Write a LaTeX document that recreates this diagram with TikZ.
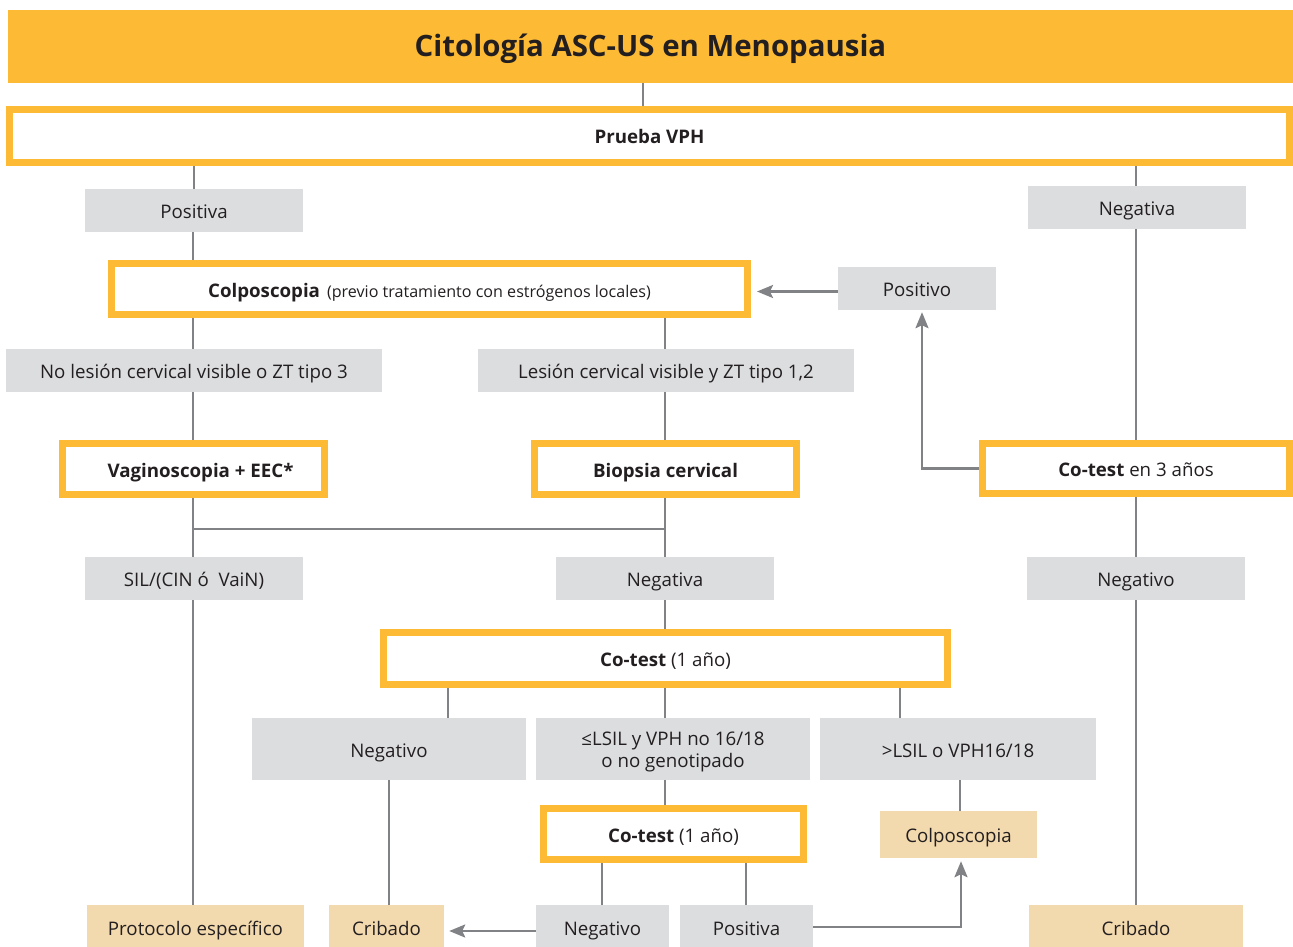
\documentclass[tikz,border=0pt]{standalone}
\usepackage{fontspec}
\setmainfont{Open Sans}
\usetikzlibrary{arrows.meta,calc}
\definecolor{ambar}{HTML}{FDBB35}
\definecolor{gris}{HTML}{DCDDDF}
\definecolor{crema}{HTML}{F3D9AE}
\definecolor{linea}{HTML}{808285}
\definecolor{tinta}{HTML}{231F20}
\newcommand{\txt}{\fontsize{18.7}{22}\selectfont}
\begin{document}
\begin{tikzpicture}[x=1pt,y=-1pt,
  every node/.style={text=tinta, inner sep=0pt, font=\txt},
  linea1/.style={text height=16.5pt, text depth=0.5pt},
  obox/.style={draw=ambar, line width=7pt, fill=white, rectangle, linea1},
  gbox/.style={fill=gris, rectangle, linea1},
  tbox/.style={fill=crema, rectangle, linea1},
  conn/.style={draw=linea, line width=2.5pt},
  arr/.style={conn, -{Stealth[length=16pt,width=13pt,inset=3pt]}}]
\useasboundingbox (0,0) rectangle (1293,947);

% title bar
\node[fill=ambar, minimum width=1285pt, minimum height=73pt, text height=21pt, text depth=0.5pt,
      font=\fontsize{29.4}{34}\selectfont\bfseries] (title) at (650.5,46.5) {Citología ASC-US en Menopausia};

% bordered decision boxes
\node[obox, minimum width=1280pt, minimum height=53pt, font=\txt\bfseries] (vph) at (649.5,136) {Prueba VPH};
\node[obox, minimum width=636pt, minimum height=51pt] (colpo) at (429.5,289)
  {\textbf{Colposcopia}\hspace{7pt}{\fontsize{16.1}{18}\selectfont(previo tratamiento con estrógenos locales)}};
\node[obox, minimum width=307pt, minimum height=50pt] (ct3) at (1136,468.5) {\textbf{Co-test} en 3 años};
\node[obox, minimum width=262pt, minimum height=51pt, font=\txt\bfseries] (vag) at (193.5,469) {\hspace*{14pt}Vaginoscopia + EEC*};
\node[obox, minimum width=262pt, minimum height=51pt, font=\txt\bfseries] (bio) at (665.5,469) {Biopsia cervical};
\node[obox, minimum width=564pt, minimum height=52pt] (ct1) at (665.5,658.5) {\textbf{Co-test} (1 año)};
\node[obox, minimum width=260pt, minimum height=51pt] (ct2) at (673.5,834) {\textbf{Co-test} (1 año)};

% grey result boxes
\node[gbox, minimum width=218pt, minimum height=43pt] (pos) at (194,210.5) {Positiva};
\node[gbox, minimum width=218pt, minimum height=43pt] (nega) at (1137,207.5) {Negativa};
\node[gbox, minimum width=158pt, minimum height=43pt] (posvo) at (917,288.5) {Positivo};
\node[gbox, minimum width=376pt, minimum height=43pt] (nolv) at (194,370.5) {No lesión cervical visible o ZT tipo 3};
\node[gbox, minimum width=376pt, minimum height=43pt] (lesv) at (666,370.5) {Lesión cervical visible y ZT tipo 1,2};
\node[gbox, minimum width=218pt, minimum height=43pt] (sil) at (194,578.5) {SIL/(CIN ó\ \ VaiN)};
\node[gbox, minimum width=218pt, minimum height=43pt] (negb) at (665,578.5) {Negativa};
\node[gbox, minimum width=218pt, minimum height=43pt] (negc) at (1136,578.5) {Negativo};
\node[gbox, minimum width=274pt, minimum height=62pt] (negd) at (389,749) {Negativo};
\node[fill=gris, minimum width=274pt, minimum height=62pt,
      label={[align=center, yshift=-3pt, font=\txt]center:≤LSIL y VPH no 16/18\\[-0.5pt]o no genotipado}] (lsil) at (673,749) {};
\node[gbox, minimum width=276pt, minimum height=62pt] (glsil) at (958,749) {>LSIL o VPH16/18};
\node[gbox, minimum width=133pt, minimum height=44pt] (nege) at (602.5,927) {Negativo};
\node[gbox, minimum width=133pt, minimum height=44pt] (pose) at (746.5,927) {Positiva};

% final outcome boxes
\node[tbox, minimum width=217pt, minimum height=44pt] (proto) at (195.5,927) {Protocolo específico};
\node[tbox, minimum width=115pt, minimum height=44pt] (crib1) at (386.5,927) {Cribado};
\node[tbox, minimum width=214pt, minimum height=44pt] (crib2) at (1136,927) {Cribado};
\node[tbox, minimum width=157pt, minimum height=47pt] (colpt) at (958.5,834.5) {Colposcopia};

% connectors
\draw[conn] (title.south -| 643,0) -- (vph.north -| 643,0);
\draw[conn] (vph.south -| pos.north) -- (pos.north);
\draw[conn] (vph.south -| 1136,0) -- (nega.north -| 1136,0);
\draw[conn] (pos.south -| 193,0) -- (colpo.north -| 193,0);
\draw[conn] (colpo.south -| 193,0) -- (nolv.north -| 193,0);
\draw[conn] (colpo.south -| 665,0) -- (lesv.north -| 665,0);
\draw[conn] (nolv.south -| 193,0) -- (vag.north -| 193,0);
\draw[conn] (lesv.south -| 665,0) -- (bio.north -| 665,0);
\draw[conn] (vag.south -| 193,0) -- (sil.north -| 193,0);
\draw[conn] (bio.south -| 665,0) -- (negb.north -| 665,0);
\coordinate (junta) at (193,529);
\draw[conn] (junta) -- (junta -| bio.south);
\draw[conn] (sil.south -| 193,0) -- (proto.north -| 193,0);
\draw[conn] (negb.south) -- (ct1.north -| negb.south);
\draw[conn] (nega.south -| 1136,0) -- (ct3.north -| 1136,0);
\draw[conn] (ct3.south -| 1136,0) -- (negc.north -| 1136,0);
\draw[conn] (negc.south -| 1136,0) -- (crib2.north -| 1136,0);
\draw[conn] (ct1.south -| 448,0) -- (negd.north -| 448,0);
\draw[conn] (ct1.south -| 665,0) -- (lsil.north -| 665,0);
\draw[conn] (ct1.south -| 900,0) -- (glsil.north -| 900,0);
\draw[conn] (negd.south -| 389,0) -- (crib1.north -| 389,0);
\draw[conn] (lsil.south -| 665,0) -- (ct2.north -| 665,0);
\draw[conn] (glsil.south -| 960,0) -- (colpt.north -| 960,0);
\draw[conn] (ct2.south -| 602,0) -- (nege.north -| 602,0);
\draw[conn] (ct2.south -| 746,0) -- (pose.north -| 746,0);

% arrows
\draw[arr, shorten >=6pt] ([yshift=-3pt]posvo.west) -- ([yshift=-3pt]posvo.west -| colpo.east);
\draw[arr, shorten >=2pt] (ct3.west) -| ([xshift=5pt]posvo.south);
\draw[arr, shorten >=5pt] ([yshift=-4pt]nege.west) -- ([yshift=-4pt]nege.west -| crib1.east);
\draw[arr, shorten >=3pt] (pose.east) -| ([xshift=2.5pt]colpt.south);
\end{tikzpicture}
\end{document}
